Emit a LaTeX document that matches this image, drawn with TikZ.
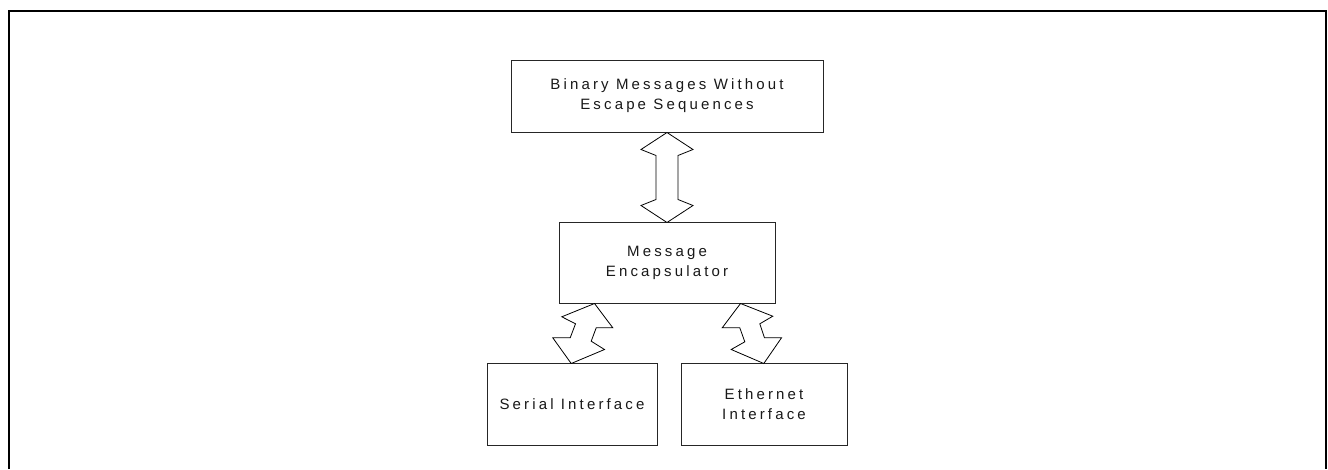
\documentclass[tikz,border=0pt]{standalone}
\usepackage{fontspec}
\setmainfont{Liberation Sans}[LetterSpace=21]
\usetikzlibrary{calc}
\tikzset{
  blockbox/.style={draw=black!85, line width=1pt, fill=white, align=center,
    inner sep=0pt, font=\fontsize{15}{20}\selectfont, text=black!90},
  fatarrow/.style={draw=black, line width=0.8pt, fill=white, line join=miter},
  frameline/.style={draw=black, line width=2pt}
}
\begin{document}
\begin{tikzpicture}[x=1pt, y=-1pt]
\useasboundingbox (0,0) rectangle (1328,469);
% outer frame, open at the bottom
\draw[frameline] (9,469) -- (9,11) -- (1326,11) -- (1326,469);

% blocks
\node[blockbox, minimum width=312pt, minimum height=72pt] (bin) at (667,96)
  {Binary Messages Without\\Escape Sequences};
\node[blockbox, minimum width=216pt, minimum height=81pt] (enc) at (667,262.5)
  {Message\\Encapsulator};
\node[blockbox, minimum width=170pt, minimum height=82pt] (ser) at (572,404)
  {Serial Interface};
\node[blockbox, minimum width=166pt, minimum height=82pt] (eth) at (764,404)
  {Ethernet\\Interface};

% two-headed block arrow between the upper blocks
\coordinate (vt) at (bin.south);
\draw[fatarrow, shift={(vt)}]
  (0,0) -- (-26,17) -- (-11,23) -- (-11,67) -- (-26,73) -- (0,90)
  -- (26,73) -- (11,67) -- (11,23) -- (26,17) -- cycle;

% zig-zag arrows down to the interfaces
\coordinate (lz) at ($(enc.south west)+(36,0)$);
\draw[fatarrow, shift={(lz)}]
  (0,0) -- (18.3,24.3) -- (1.7,24.3) -- (-3.3,37.7) -- (10,46) -- (-23.3,60)
  -- (-41.7,34.3) -- (-24.3,34.3) -- (-19,20.3) -- (-32.7,13.3) -- cycle;

\coordinate (rz) at ($(enc.south east)+(-35,0)$);
\draw[fatarrow, shift={(rz)}]
  (0,0) -- (32.3,12.7) -- (19.3,20.3) -- (24,34.3) -- (41,34.3) -- (23.3,60)
  -- (-9.3,46) -- (4.3,38.3) -- (-0.7,24.3) -- (-18.3,24.3) -- cycle;
\end{tikzpicture}
\end{document}
